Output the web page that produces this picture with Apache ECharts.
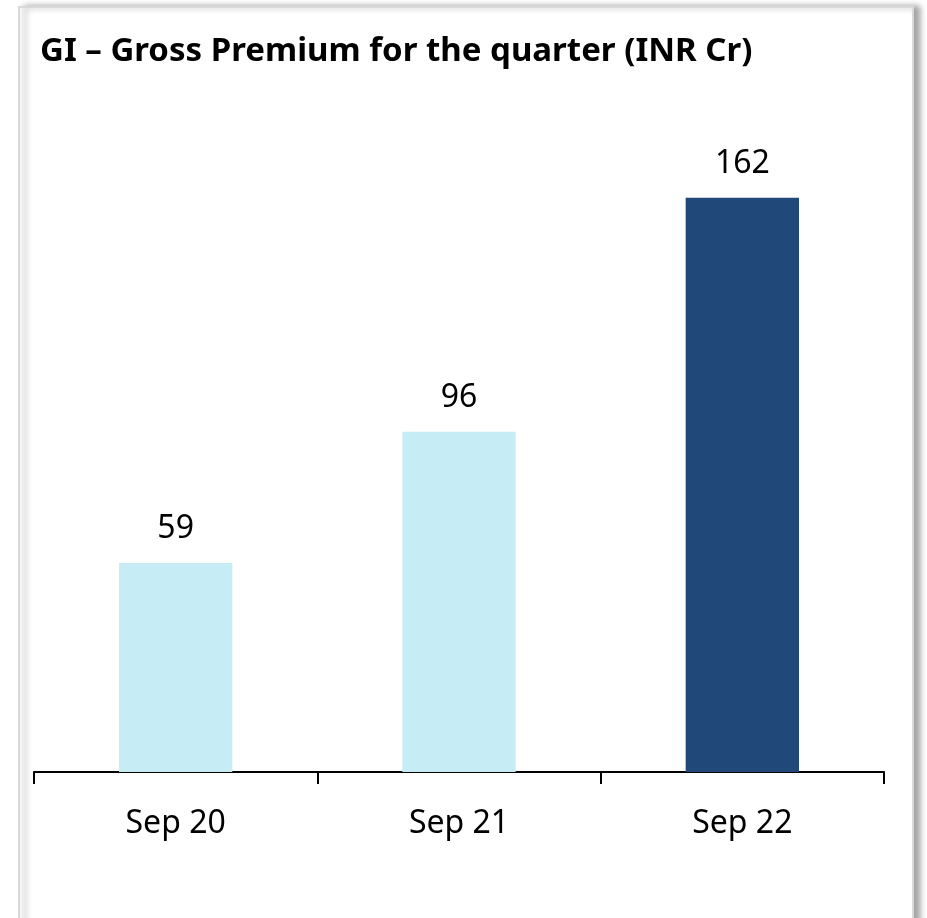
<!DOCTYPE html>
<html>
<head>
<meta charset="utf-8">
<script src="https://cdn.jsdelivr.net/npm/echarts@6/dist/echarts.min.js"></script>
<style>
  html, body { margin: 0; padding: 0; background: #fff; }
  #chart { width: 927px; height: 918px; }
</style>
</head>
<body>
<div id="chart"></div>
<script>
const categories = ['Sep 20', 'Sep 21', 'Sep 22'];
const premiums = [59, 96, 162];
const barColors = ['#c6edf5', '#c6edf5', '#20497a'];

const chart = echarts.init(document.getElementById('chart'));

chart.setOption({
  animation: false,
  backgroundColor: '#fff',
  graphic: [
    {
      // card frame with shadow on the right
      type: 'rect',
      z: -10,
      shape: { x: 19, y: 7, width: 894, height: 930 },
      style: {
        fill: '#fff',
        stroke: '#d9d9d9',
        lineWidth: 2,
        shadowBlur: 6,
        shadowOffsetX: 6,
        shadowOffsetY: 0,
        shadowColor: 'rgba(0,0,0,0.35)',
      },
    },
  ],
  title: {
    text: 'GI – Gross Premium for the quarter (INR Cr)',
    left: 35,
    top: 30,
    textStyle: {
      fontFamily: 'Noto Sans',
      fontWeight: 'bold',
      fontSize: 33,
      color: '#000',
    },
  },
  grid: {
    left: 34,
    right: 43,
    top: 134,
    bottom: 146,
  },
  xAxis: {
    type: 'category',
    data: categories,
    axisLine: { lineStyle: { color: '#000', width: 2 } },
    axisTick: { show: true, length: 12, lineStyle: { color: '#000', width: 2 } },
    axisLabel: {
      margin: 36,
      fontFamily: 'Noto Sans',
      fontSize: 32,
      color: '#000',
    },
  },
  yAxis: {
    type: 'value',
    min: 0,
    max: 180,
    show: false,
    splitLine: { show: false },
  },
  series: [
    {
      type: 'bar',
      barWidth: '40%',
      data: premiums.map((v, i) => ({ value: v, itemStyle: { color: barColors[i] } })),
      label: {
        show: true,
        position: 'top',
        distance: 18,
        fontFamily: 'Noto Sans',
        fontSize: 32,
        color: '#000',
      },
    },
  ],
});
</script>
</body>
</html>
